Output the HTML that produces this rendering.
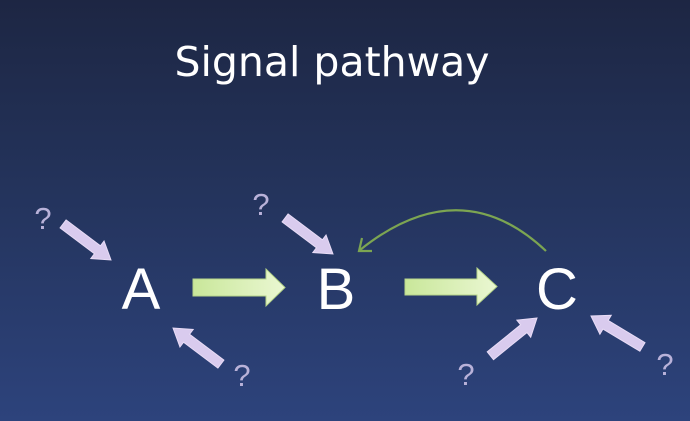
<!DOCTYPE html>
<html><head><style>
html,body{margin:0;padding:0}
body{width:690px;height:421px;overflow:hidden;background:linear-gradient(#1d2643 0%,#233259 40%,#2d437c 100%);font-family:"Liberation Sans","DejaVu Sans",sans-serif}
svg{display:block}
</style></head><body>
<svg width="690" height="421" viewBox="0 0 690 421" xmlns="http://www.w3.org/2000/svg">
<defs>
<linearGradient id="g" x1="0" y1="0" x2="1" y2="0"><stop offset="0" stop-color="#c9e79a"/><stop offset="1" stop-color="#eaf7d2"/></linearGradient>
<g id="pa"><polygon points="0,0 -17,-11 -17,-5 -60,-5 -60,5 -17,5 -17,11" fill="#d9cbee" stroke="#e8dcf6" stroke-width="1"/></g>
</defs>
<text x="332" y="76" text-anchor="middle" font-size="41" fill="#fff" font-family="DejaVu Sans, sans-serif">Signal pathway</text>
<g fill="#fff" font-size="58" text-anchor="middle">
<text x="141" y="309">A</text><text x="336" y="309">B</text><text x="557" y="309">C</text>
</g>
<polygon points="193,279 266,279 266,269 285,287.5 266,306 266,296 193,296" fill="url(#g)" stroke="#b7d58a"/>
<polygon points="405,279 477,279 477,268 497,286.5 477,305 477,295 405,295" fill="url(#g)" stroke="#b7d58a"/>
<use href="#pa" transform="translate(111,260) rotate(37)"/>
<use href="#pa" transform="translate(173,328) rotate(217)"/>
<use href="#pa" transform="translate(333,254) rotate(37)"/>
<use href="#pa" transform="translate(537,318) rotate(-39)"/>
<use href="#pa" transform="translate(591,316) rotate(211)"/>
<g fill="#b9b2d9" font-size="31" text-anchor="middle">
<text x="43" y="229">?</text><text x="261" y="215">?</text><text x="242" y="386">?</text><text x="466" y="385">?</text><text x="665" y="375">?</text>
</g>
<path d="M546,251 Q460,170 360,250" fill="none" stroke="#7ca552" stroke-width="2.2"/>
<polyline points="362,238 359,251 372,251" fill="none" stroke="#7ca552" stroke-width="2.2"/>
</svg>
</body></html>
